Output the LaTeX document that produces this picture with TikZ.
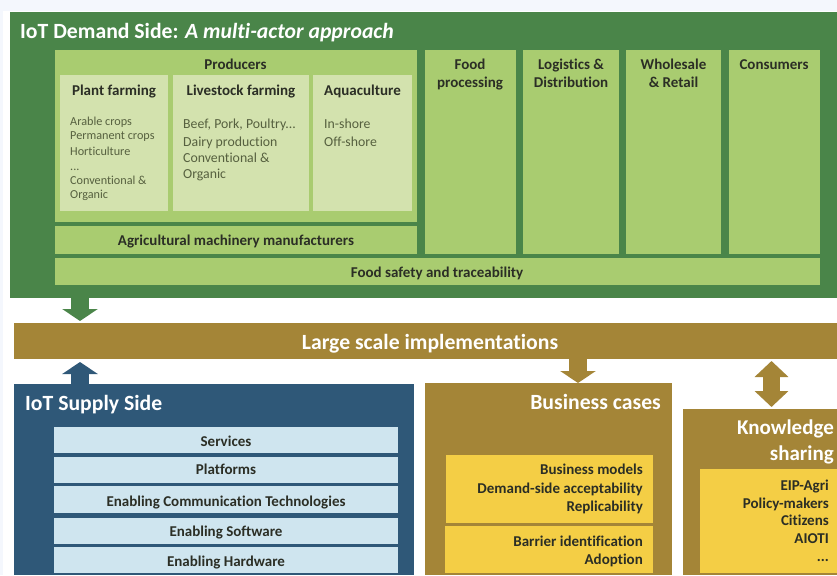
\documentclass[tikz,border=0pt]{standalone}
\usepackage{fontspec}
\setmainfont[Ligatures=NoCommon]{Carlito}
\usetikzlibrary{arrows.meta}
\definecolor{pagebg}{HTML}{F4F7FD}
\definecolor{gdark}{HTML}{4A8549}
\definecolor{gmid}{HTML}{A9CC70}
\definecolor{glight}{HTML}{D3E2AE}
\definecolor{brown}{HTML}{A48537}
\definecolor{bluedark}{HTML}{2F5878}
\definecolor{bluelight}{HTML}{CFE5EF}
\definecolor{yell}{HTML}{F4CE45}
\definecolor{ink}{HTML}{2B2E25}
\definecolor{soft}{HTML}{56603F}
\newcommand{\bx}[6]{%
  \pgfmathsetmacro{\bxw}{#4-#2}\pgfmathsetmacro{\bxh}{#5-#3}%
  \node[fill=#6,inner sep=0pt,outer sep=0pt,anchor=north west,minimum width=\bxw pt,minimum height=\bxh pt] (#1) at (#2,#3) {};}
\tikzset{
  head/.style={font=\fontsize{21.7}{24}\selectfont\bfseries,text=white,inner sep=0pt,yshift=-0.8pt},
  headk/.style={font=\fontsize{21}{24}\selectfont\bfseries,text=white,inner sep=0pt,yshift=-0.8pt},
  lab/.style={font=\fontsize{15}{16}\selectfont\bfseries,text=ink,inner sep=0pt,anchor=base,yshift=-0.8pt},
  sub/.style={font=\fontsize{15}{16}\selectfont\bfseries,text=ink,inner sep=0pt,anchor=base,yshift=-0.8pt},
  rlab/.style={font=\fontsize{15}{16}\selectfont\bfseries,text=ink,inner sep=0pt,anchor=base east,yshift=-0.8pt},
  bodyA/.style={font=\fontsize{12.2}{14}\selectfont,text=soft,inner sep=0pt,anchor=base west,yshift=-0.8pt},
  bodyB/.style={font=\fontsize{13.8}{16}\selectfont,text=soft,inner sep=0pt,anchor=base west,yshift=-0.8pt},
  flow/.style={line width=18pt,-{Triangle[width=35pt,length=12pt]}},
  flowboth/.style={line width=17pt,{Triangle[width=33pt,length=16pt]}-{Triangle[width=33pt,length=16pt]}}
}
\begin{document}
\begin{tikzpicture}[x=1pt,y=-1pt]
\useasboundingbox (0,0) rectangle (837,575);
\fill[white] (0,0) rectangle (837,575);
\fill[pagebg] (0,0) rectangle (837,11);
\fill[pagebg] (0,0) rectangle (3,575);
% demand side
\bx{demand}{10}{12}{837}{298}{gdark}
\bx{producers}{54.5}{50}{417}{222}{gmid}
\bx{plant}{60}{75}{168}{211}{glight}
\bx{livestock}{173}{75}{309}{211}{glight}
\bx{aqua}{313}{75}{412}{211}{glight}
\bx{machinery}{54.5}{226}{417}{254}{gmid}
\bx{safety}{54.5}{258}{820}{285}{gmid}
\bx{foodproc}{424.7}{50}{516}{254}{gmid}
\bx{logistics}{522.7}{50}{619}{254}{gmid}
\bx{wholesale}{625.7}{50}{721}{254}{gmid}
\bx{consumers}{729}{50}{820}{254}{gmid}
\node[head,anchor=base west] (demandT) at (20,38) {IoT Demand Side: \textit{A multi-actor approach}};
\node[lab] (producersT) at (235.5,69) {Producers};
\node[sub] (plantT) at (114,95) {Plant farming};
\node[sub] (livestockT) at (241,95) {Livestock farming};
\node[sub] (aquaT) at (362.5,95) {Aquaculture};
\node[bodyA] (p1) at (70,125) {Arable crops};
\node[bodyA] (p2) at (70,139) {Permanent crops};
\node[bodyA] (p3) at (70,155) {Horticulture};
\node[bodyA] (p4) at (70,170) {...};
\node[bodyA] (p5) at (70,184) {Conventional \&};
\node[bodyA] (p6) at (70,198) {Organic};
\node[bodyB] (l1) at (183,128) {Beef, Pork, Poultry...};
\node[bodyB] (l2) at (183,146) {Dairy production};
\node[bodyB] (l3) at (183,162) {Conventional \&};
\node[bodyB] (l4) at (183,178) {Organic};
\node[bodyB] (a1) at (324,128) {In-shore};
\node[bodyB] (a2) at (324,146) {Off-shore};
\node[lab] (machineryT) at (236,245) {Agricultural machinery manufacturers};
\node[lab] (safetyT) at (437,277) {Food safety and traceability};
\node[lab] (f1) at (470,69) {Food};
\node[lab] (f2) at (470,87) {processing};
\node[lab] (g1) at (571,69) {Logistics \&};
\node[lab] (g2) at (571,87) {Distribution};
\node[lab] (w1) at (673.5,69) {Wholesale};
\node[lab] (w2) at (673.5,87) {\& Retail};
\node[lab] (c1) at (774,69) {Consumers};
% implementations
\bx{large}{14}{323}{837}{359}{brown}
\node[head,anchor=base] (largeT) at (430,349) {Large scale implementations};
% supply side
\bx{supply}{14}{384}{413.5}{575}{bluedark}
\node[head,anchor=base west] (supplyT) at (25,410) {IoT Supply Side};
\bx{services}{54}{427}{398}{453}{bluelight}
\bx{platforms}{54}{457}{398}{483}{bluelight}
\bx{comm}{54}{486}{398}{513}{bluelight}
\bx{software}{54}{518}{398}{544}{bluelight}
\bx{hardware}{54}{547}{398}{573}{bluelight}
\node[lab] (servicesT) at (226,446) {Services};
\node[lab] (platformsT) at (226,474) {Platforms};
\node[lab] (commT) at (226,506) {Enabling Communication Technologies};
\node[lab] (softwareT) at (226,536) {Enabling Software};
\node[lab] (hardwareT) at (226,566) {Enabling Hardware};
% business cases
\bx{business}{425}{383}{671.5}{575}{brown}
\node[head,anchor=base east] (businessT) at (661,409) {Business cases};
\bx{bmodels}{446}{455}{653}{523}{yell}
\bx{barrier}{445}{526}{652.5}{573}{yell}
\node[rlab] (b1) at (643,474) {Business models};
\node[rlab] (b2) at (643,493) {Demand-side acceptability};
\node[rlab] (b3) at (643,511) {Replicability};
\node[rlab] (b4) at (643,546) {Barrier identification};
\node[rlab] (b5) at (643,564) {Adoption};
% knowledge
\bx{knowledge}{683}{409}{837}{575}{brown}
\node[headk,anchor=base east] (knowT1) at (834,434) {Knowledge};
\node[headk,anchor=base east] (knowT2) at (834,460) {sharing};
\bx{actors}{700}{469}{837}{573}{yell}
\node[rlab] (k1) at (829,490) {EIP-Agri};
\node[rlab] (k2) at (829,508) {Policy-makers};
\node[rlab] (k3) at (829,525) {Citizens};
\node[rlab] (k4) at (829,543) {AIOTI};
\node[rlab] (k5) at (829,561) {...};
% connectors
\coordinate (colA) at (80,0);
\coordinate (colB) at (578,0);
\coordinate (colC) at (771.5,0);
\draw[flow,gdark,shorten >=2pt] (demand.south -| colA) -- (large.north -| colA);
\draw[flow,bluedark,shorten >=3pt] (supply.north -| colA) -- (large.south -| colA);
\draw[flow,brown] (large.south -| colB) -- (business.north -| colB);
\draw[flowboth,brown,shorten >=2pt,shorten <=2pt] (large.south -| colC) -- (knowledge.north -| colC);
\end{tikzpicture}
\end{document}
